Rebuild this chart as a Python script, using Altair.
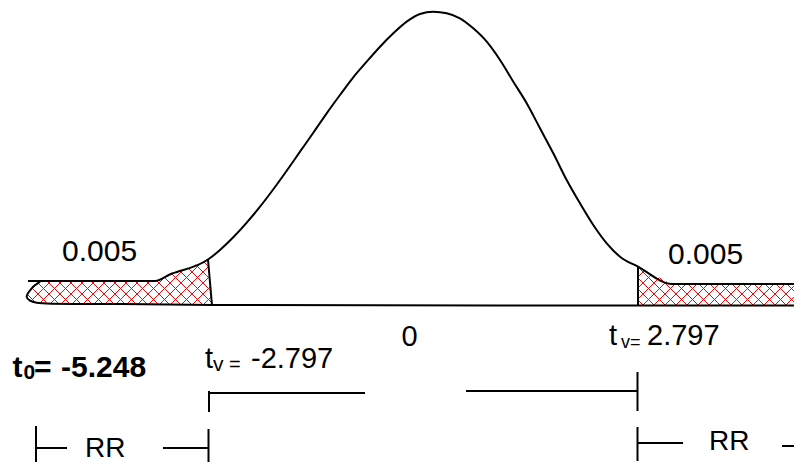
import math
import altair as alt
import pandas as pd

# ---------------- values ----------------
# density curve of the test statistic (t units, density units)
curve_t = [-5.139, -3.486, -3.265, -3.200, -2.797, -2.719, -2.641, -2.468, -2.293, -2.120,
           -1.947, -1.773, -1.600, -1.427, -1.253, -1.080, -0.907, -0.732, -0.559,
           -0.386, -0.212, -0.039, 0.134, 0.308, 0.481, 0.654, 0.829, 1.002, 1.175,
           1.349, 1.522, 1.695, 1.869, 2.042, 2.215, 2.390, 2.563, 2.797, 3.239, 4.930]
curve_d = [0.0328, 0.0328, 0.0430, 0.0451, 0.0621, 0.0683, 0.0751, 0.0924, 0.1124, 0.1342,
           0.1580, 0.1833, 0.2093, 0.2352, 0.2617, 0.2867, 0.3109, 0.3322, 0.3526,
           0.3709, 0.3868, 0.3973, 0.4004, 0.3982, 0.3914, 0.3777, 0.3595, 0.3345, 0.3048,
           0.2754, 0.2412, 0.2071, 0.1706, 0.1388, 0.1092, 0.0842, 0.0659, 0.0523, 0.0287, 0.0287]

# rounded left end of the lower tail and the base line
base_t = [-4.982, -5.090, -5.156, -5.113, -5.025, -3.942, -2.745, 4.930]
base_d = [0.0318, 0.0228, 0.0113, 0.0059, 0.0031, 0.0014, 0.0, -0.0007]

# critical values and rejection-region borders
t_crit = [-2.797, 2.797]
edge_top_d = [0.0621, 0.0523]
edge_bottom_t = [-2.745, 2.797]
edge_bottom_d = [0.0, -0.0014]

# labels
alpha_half = "0.005"
t_obs_label = "-5.248"
t_crit_labels = ["-2.797", "2.797"]
centre_label = "0"
region_label = "RR"

# ---------------- drawing set-up ----------------
W, H = 786, 454
PX_PER_T = 76.87
PX_PER_D = 732.5
T_LEFT = -5.3987
T_RIGHT = T_LEFT + W / PX_PER_T
D_TOP = 0.40546
D_BOTTOM = D_TOP - H / PX_PER_D
OFF = 8  # page margin

xs = alt.Scale(domain=[T_LEFT, T_RIGHT], nice=False, zero=False)
ys = alt.Scale(domain=[D_BOTTOM, D_TOP], nice=False, zero=False)
FONT = "Liberation Sans"


def X(f):
    return alt.X(f, type="quantitative", scale=xs, axis=None)


def Y(f):
    return alt.Y(f, type="quantitative", scale=ys, axis=None)


# ---------------- hatch (cross-hatch fill of the two tails) ----------------
left_poly = [(base_t[0], base_d[0])]
left_poly += [(t, d) for t, d in zip(curve_t, curve_d) if base_t[0] < t <= t_crit[0] + 1e-9]
left_poly += [(edge_bottom_t[0], edge_bottom_d[0])]
left_poly += [(t, d) for t, d in reversed(list(zip(base_t[1:6], base_d[1:6])))]

right_poly = [(t_crit[1], edge_top_d[1])]
right_poly += [(t, d) for t, d in zip(curve_t, curve_d) if t > t_crit[1] + 1e-9]
right_poly[-1] = (T_RIGHT, right_poly[-1][1])
right_poly += [(T_RIGHT, edge_bottom_d[1]), (t_crit[1], edge_bottom_d[1])]

K = PX_PER_T / PX_PER_D
SP = 11 / PX_PER_T
STEP = 0.2 / PX_PER_T


def inside(x, y, poly):
    ins = False
    j = len(poly) - 1
    for i in range(len(poly)):
        xi, yi = poly[i]
        xj, yj = poly[j]
        if (yi > y) != (yj > y):
            xc = xi + (y - yi) * (xj - xi) / (yj - yi)
            if x < xc:
                ins = not ins
        j = i
    return ins


def hatch(poly):
    segs = []
    tmin = min(p[0] for p in poly)
    tmax = max(p[0] for p in poly)
    n = int((tmax - tmin) / STEP) + 1
    for sgn in (1, -1):
        cs = [t - sgn * d / K for t, d in poly]
        for k in range(math.floor(min(cs) / SP), math.ceil(max(cs) / SP) + 1):
            c = k * SP
            run = None
            for i in range(n + 1):
                t = tmin + i * STEP
                d = sgn * K * (t - c)
                if inside(t, d, poly):
                    if run is None:
                        run = [t, d, t, d]
                    else:
                        run[2], run[3] = t, d
                elif run is not None:
                    segs.append(run)
                    run = None
            if run is not None:
                segs.append(run)
    return segs


segs = hatch(left_poly) + hatch(right_poly)
hatch_df = pd.DataFrame(segs, columns=["t1", "d1", "t2", "d2"])

hatch_layer = alt.Chart(hatch_df).mark_rule(color="#ff0000", strokeWidth=1).encode(
    x=X("t1"), y=Y("d1"), x2="t2", y2="d2")

curve_df = pd.DataFrame({"t": curve_t, "d": curve_d, "i": range(len(curve_t))})
curve_layer = alt.Chart(curve_df).mark_line(
    color="black", strokeWidth=2, interpolate="monotone").encode(
    x=X("t"), y=Y("d"), order=alt.Order("i:Q"))

base_df = pd.DataFrame({"t": base_t, "d": base_d, "i": range(len(base_t))})
base_layer = alt.Chart(base_df).mark_line(
    color="black", strokeWidth=2, interpolate="catmull-rom").encode(
    x=X("t"), y=Y("d"), order=alt.Order("i:Q"))

edge_df = pd.DataFrame({"t1": t_crit, "d1": edge_top_d, "t2": edge_bottom_t, "d2": edge_bottom_d})
edge_layer = alt.Chart(edge_df).mark_rule(color="black", strokeWidth=2).encode(
    x=X("t1"), y=Y("d1"), x2="t2", y2="d2")

one = pd.DataFrame({"a": [0]})


def seg(x1, y1, x2, y2, w=2):
    return alt.Chart(one).mark_rule(color="black", strokeWidth=w).encode(
        x=alt.value(x1 - OFF), y=alt.value(y1 - OFF),
        x2=alt.value(x2 - OFF), y2=alt.value(y2 - OFF))


def label(txt, x, y, size, weight="normal", align="left"):
    return alt.Chart(one).mark_text(
        text=txt, font=FONT, fontSize=size, fontWeight=weight, align=align,
        baseline="alphabetic", color="black").encode(
        x=alt.value(x - OFF), y=alt.value(y - OFF))


annotations = [
    # bracket between the critical values
    seg(209, 391, 209, 412), seg(209, 393, 365, 393),
    seg(466, 391, 637.5, 391), seg(637.5, 372, 637.5, 411),
    # left rejection region
    seg(36, 426, 36, 462), seg(36, 448, 67, 448),
    seg(163, 448, 208.5, 448), seg(208.5, 429, 208.5, 462),
    # right rejection region
    seg(637.5, 427, 637.5, 461), seg(637.5, 443, 683, 443),
    seg(782, 446, 794, 446),
    # texts
    label(alpha_half, 62, 261, 30),
    label(alpha_half, 668, 264, 30),
    label(centre_label, 401.5, 346, 29),
    label("t", 609, 345, 29),
    label("v=", 621, 348, 18),
    label(t_crit_labels[1], 647, 345, 29),
    label("t", 12.5, 377, 30, "bold"),
    label("0", 23.5, 379, 21, "bold"),
    label("=", 34, 377, 30, "bold"),
    label(t_obs_label, 61, 377, 30, "bold"),
    label("t", 205, 368, 29),
    label("v", 213, 371, 21),
    label("=", 229, 371, 20),
    label(t_crit_labels[0], 251, 368, 29),
    label(region_label, 85, 457, 28),
    label(region_label, 709, 450, 28),
]

chart = alt.layer(hatch_layer, curve_layer, base_layer, edge_layer, *annotations).properties(
    width=W, height=H, padding=0, background="white",
    autosize=alt.AutoSizeParams(type="none")
).configure_view(stroke=None)

chart.save("out.html", embed_options={"renderer": "svg", "actions": False})
